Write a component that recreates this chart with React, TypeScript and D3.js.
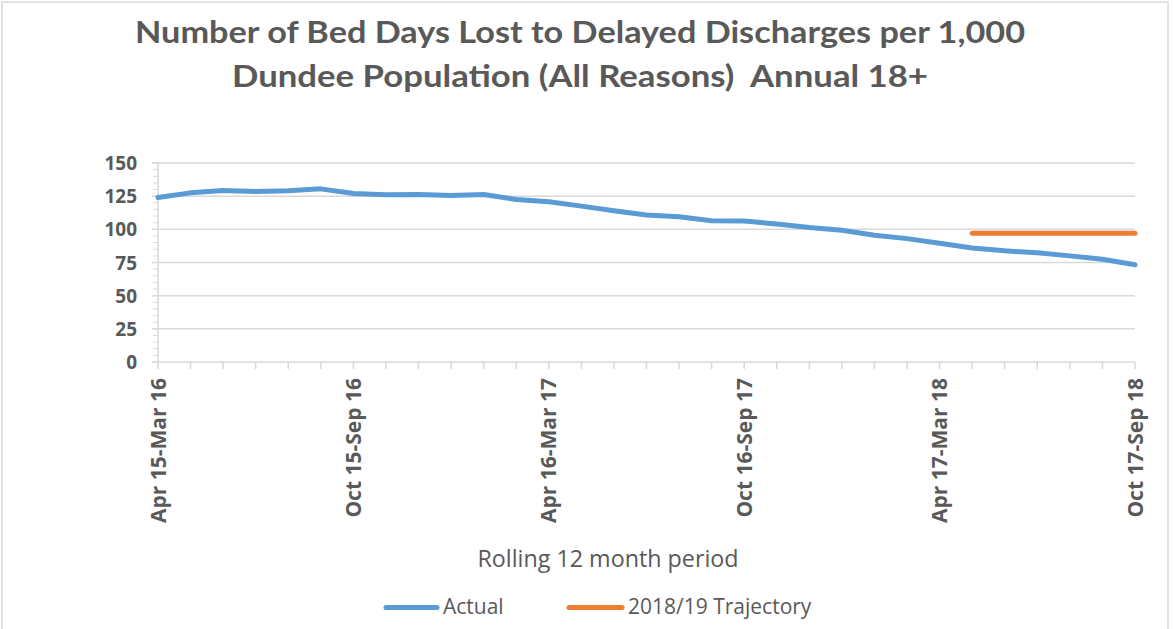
import React from "react";
import * as d3 from "d3";

const categories: string[] = [
  "Apr 15-Mar 16", "May 15-Apr 16", "Jun 15-May 16", "Jul 15-Jun 16", "Aug 15-Jul 16",
  "Sep 15-Aug 16", "Oct 15-Sep 16", "Nov 15-Oct 16", "Dec 15-Nov 16", "Jan 16-Dec 16",
  "Feb 16-Jan 17", "Mar 16-Feb 17", "Apr 16-Mar 17", "May 16-Apr 17", "Jun 16-May 17",
  "Jul 16-Jun 17", "Aug 16-Jul 17", "Sep 16-Aug 17", "Oct 16-Sep 17", "Nov 16-Oct 17",
  "Dec 16-Nov 17", "Jan 17-Dec 17", "Feb 17-Jan 18", "Mar 17-Feb 18", "Apr 17-Mar 18",
  "May 17-Apr 18", "Jun 17-May 18", "Jul 17-Jun 18", "Aug 17-Jul 18", "Sep 17-Aug 18",
  "Oct 17-Sep 18",
];

const actual: number[] = [
  124, 127.5, 129.3, 128.5, 129, 130.5, 127, 126, 126.3, 125.5,
  126.2, 122.5, 120.8, 117.5, 114, 110.8, 109.5, 106.5, 106.3, 104,
  101.3, 99.3, 95.5, 93, 89.5, 86, 83.8, 82.3, 80, 77.5, 73.3,
];

const trajectory: (number | null)[] = [
  null, null, null, null, null, null, null, null, null, null,
  null, null, null, null, null, null, null, null, null, null,
  null, null, null, null, null, 97, 97, 97, 97, 97, 97,
];

const yTicks: number[] = [0, 25, 50, 75, 100, 125, 150];
const labeledEvery = 6;

const TFONT = "Lato, 'Open Sans', sans-serif";
const FONT = "'Open Sans', sans-serif";
const TXT = "#595959";
const GRID = "#D9D9D9";

export default function App() {
  const W = 1173, H = 629;
  const x0 = 158, x1 = 1135, yTop = 163, yBot = 362;

  const x = d3.scalePoint<number>().domain(categories.map((_, i) => i)).range([x0, x1]);
  const y = d3.scaleLinear().domain([0, 150]).range([yBot, yTop]);
  const minor = d3.range(0, 151, 5);

  const lineA = d3.line<number>().x((_, i) => x(i)!).y((d) => y(d));
  const lineT = d3
    .line<number | null>()
    .defined((d) => d !== null)
    .x((_, i) => x(i)!)
    .y((d) => y(d as number));

  return (
    <svg
      width={W}
      height={H}
      style={{ position: "absolute", left: 0, top: 0, background: "#fff" }}
      fontFamily={FONT}
    >
      <rect x={2} y={2} width={1166} height={H + 10} fill="#fff" stroke={GRID} strokeWidth={1.5} />

      <text x={580} y={43} textAnchor="middle" fontSize={31} fontWeight="bold" fill={TXT} fontFamily={TFONT}
        textLength={890} lengthAdjust="spacingAndGlyphs">
        Number of Bed Days Lost to Delayed Discharges per 1,000
      </text>
      <text x={580} y={87} textAnchor="middle" fontSize={31} fontWeight="bold" fill={TXT} fontFamily={TFONT}
        textLength={696} lengthAdjust="spacingAndGlyphs" style={{ whiteSpace: "pre" }}>
        {"Dundee Population (All Reasons)  Annual 18+"}
      </text>

      {yTicks.map((t) => (
        <line key={"g" + t} x1={152} x2={x1} y1={y(t)} y2={y(t)} stroke={GRID} strokeWidth={1.5} />
      ))}
      {minor.map((t) => (
        <line key={"m" + t} x1={153} x2={x0} y1={y(t)} y2={y(t)} stroke={GRID} strokeWidth={1} />
      ))}
      <line x1={x0} x2={x0} y1={yTop} y2={yBot} stroke={GRID} strokeWidth={1.5} />
      {categories.map((_, i) => (
        <line key={"xt" + i} x1={x(i)} x2={x(i)} y1={yBot} y2={yBot + 7} stroke={GRID} strokeWidth={1.5} />
      ))}

      {yTicks.map((t) => (
        <text key={"yl" + t} x={137} y={y(t) + 7} textAnchor="end" fontSize={19} fontWeight="bold" fill={TXT}>
          {t}
        </text>
      ))}

      {categories.map((c, i) =>
        i % labeledEvery === 0 ? (
          <text
            key={"xl" + i}
            transform={`translate(${x(i)! + 7.5},${378}) rotate(-90)`}
            textAnchor="end"
            fontSize={21}
            fontWeight="bold"
            fill={TXT}
          >
            {c}
          </text>
        ) : null
      )}

      <path d={lineA(actual) || ""} fill="none" stroke="#5B9BD5" strokeWidth={5} strokeLinejoin="round" strokeLinecap="round" />
      <path d={lineT(trajectory) || ""} fill="none" stroke="#ED7D31" strokeWidth={5} strokeLinejoin="round" strokeLinecap="round" />

      <text x={608} y={567} textAnchor="middle" fontSize={23.3} fill={TXT}>
        Rolling 12 month period
      </text>

      <line x1={386} x2={437} y1={607.5} y2={607.5} stroke="#5B9BD5" strokeWidth={5} strokeLinecap="round" />
      <text x={443} y={614} fontSize={21} fill={TXT}>Actual</text>
      <line x1={569} x2={622} y1={607.5} y2={607.5} stroke="#ED7D31" strokeWidth={5} strokeLinecap="round" />
      <text x={628} y={614} fontSize={21} fill={TXT}>2018/19 Trajectory</text>
    </svg>
  );
}
